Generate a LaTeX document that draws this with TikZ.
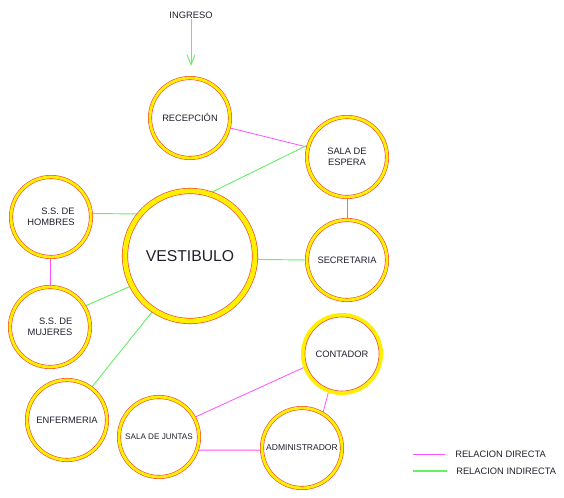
\documentclass[tikz,border=0pt]{standalone}
\usepackage{fontspec}
\setmainfont{Liberation Sans}
\usetikzlibrary{arrows.meta,backgrounds}
\definecolor{ringout}{HTML}{F04838}
\definecolor{ringband}{HTML}{FFF000}
\definecolor{rel}{HTML}{FF50FF}
\definecolor{irel}{HTML}{66F066}
\definecolor{txt}{HTML}{202030}
\begin{document}
\begin{tikzpicture}[x=0.75pt,y=-0.75pt,
  room/.style={circle, draw=ringout, line width=0.45pt, double=ringband,
    double distance=2.1pt, fill=white, minimum size=60pt, inner sep=0pt,
    align=center, text=txt, font=\fontsize{7}{8.3}\selectfont},
  bigroom/.style={room, double distance=3.6pt, line width=0.5pt,
    minimum size=97.5pt, font=\fontsize{11.8}{13}\selectfont},
  yroom/.style={circle, draw=ringout, line width=0.45pt, fill=white,
    preaction={draw=ringband, line width=6pt}, minimum size=55.5pt,
    inner sep=0pt, align=center, text=txt, font=\fontsize{7}{8.3}\selectfont},
  lbl/.style={text=txt, font=\fontsize{7}{8.3}\selectfont, inner sep=0pt},
  direct/.style={draw=rel, line width=0.6pt},
  indirect/.style={draw=irel, line width=0.7pt}]
\useasboundingbox (0,0) rectangle (564,498);

\node[room] (rec) at (190,118) {RECEPCIÓN};
\node[room] (esp) at (347,157) {SALA DE\\ESPERA};
\node[bigroom] (vest) at (190,256) {VESTIBULO};
\node[room, align=right] (hom) at (51,217) {S.S. DE\\HOMBRES};
\node[room, align=right] (muj) at (50,327) {S.S. DE\\MUJERES};
\node[room] (sec) at (347,260) {SECRETARIA};
\node[room] (enf) at (67,420) {ENFERMERIA};
\node[room, font=\fontsize{6.1}{7}\selectfont] (jun) at (159,437) {SALA DE JUNTAS};
\node[room, font=\fontsize{6.4}{7.5}\selectfont] (adm) at (302,448) {ADMINISTRADOR};
\node[yroom] (con) at (342,354) {CONTADOR};

\node[lbl] (ing) at (191,15) {INGRESO};
\coordinate (arrend) at (191,66);

\coordinate (la1) at (413,454);
\coordinate (lb1) at (445,454);
\coordinate (la2) at (413,471);
\coordinate (lb2) at (447,471);
\node[lbl, anchor=west] (ldir) at (455,454) {RELACION DIRECTA};
\node[lbl, anchor=west] (lind) at (456,471) {RELACION INDIRECTA};

\draw[indirect, -{Straight Barb[length=7.5pt,width=6pt]}] (ing) -- (arrend);

\begin{pgfonlayer}{background}
\draw[direct] (rec) -- (esp);
\draw[direct] (esp) -- (sec);
\draw[indirect] (vest.73) -- (esp.162);
\draw[indirect] (vest.-3) -- (sec.180);
\draw[indirect] (hom.5) -- (vest.140);
\draw[direct] (hom) -- (muj);
\draw[indirect] (muj.31) -- (vest.207);
\draw[indirect] (enf.53) -- (vest.236);
\draw[direct] (jun.29) -- (con.199);
\draw[direct] (jun.-19) -- (adm.183);
\draw[direct] (adm.59) -- (con.250);
\end{pgfonlayer}

\draw[direct] (la1) -- (lb1);
\draw[indirect, line width=1pt] (la2) -- (lb2);
\end{tikzpicture}
\end{document}
